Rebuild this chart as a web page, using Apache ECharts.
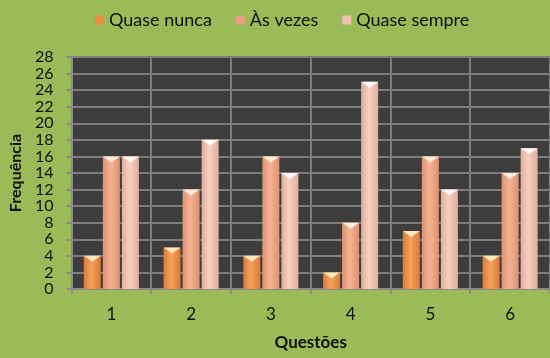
<!DOCTYPE html>
<html>
<head>
<meta charset="utf-8">
<script src="https://cdn.jsdelivr.net/npm/echarts@6/dist/echarts.min.js"></script>
<style>
  html, body { margin: 0; padding: 0; background: #9bbb59; }
  #chart { width: 550px; height: 358px; }
</style>
</head>
<body>
<div id="chart"></div>
<script>
// Survey answers per question
const categories = ['1', '2', '3', '4', '5', '6'];
const quaseNunca = [4, 5, 4, 2, 7, 4];
const asVezes = [16, 12, 16, 8, 16, 14];
const quaseSempre = [16, 18, 14, 25, 12, 17];
const yTicks = [0, 2, 4, 6, 8, 10, 12, 14, 16, 18, 20, 22, 24, 26, 28];

const FONT = 'Lato, "Open Sans", sans-serif';

function barFill(edge, mid) {
  return new echarts.graphic.LinearGradient(0, 0, 1, 0, [
    { offset: 0, color: edge },
    { offset: 0.45, color: mid },
    { offset: 1, color: edge }
  ]);
}

const styles = [
  { name: 'Quase nunca', data: quaseNunca, edge: '#dc7a36', mid: '#f6a25c', cap: '#fff0c8', legend: '#ec8c45' },
  { name: 'Às vezes', data: asVezes, edge: '#de9170', mid: '#f5b393', cap: '#fff4e6', legend: '#eaa07e' },
  { name: 'Quase sempre', data: quaseSempre, edge: '#e2ad9b', mid: '#f6d0c2', cap: '#ffffff', legend: '#efc0b0' }
];

const BAR_W = 17;
const GAP = '12%';

const series = [];
styles.forEach(s => {
  series.push({
    name: s.name,
    type: 'bar',
    data: s.data,
    barWidth: BAR_W,
    barGap: GAP,
    itemStyle: { color: barFill(s.edge, s.mid) },
    emphasis: { disabled: true }
  });
});
// triangular bevel caps on the bar tops
styles.forEach(s => {
  series.push({
    name: s.name,
    type: 'pictorialBar',
    data: s.data,
    barWidth: BAR_W,
    barGap: GAP,
    symbol: 'path://M0,0 L20,0 L10,6 Z',
    symbolSize: [BAR_W, 6],
    symbolPosition: 'end',
    itemStyle: { color: s.cap, opacity: 0.9 },
    z: 3,
    silent: true
  });
});

const chart = echarts.init(document.getElementById('chart'));
chart.setOption({
  backgroundColor: '#9bbb59',
  animation: false,
  textStyle: { fontFamily: FONT },
  legend: {
    top: 6,
    left: 90,
    itemWidth: 9,
    itemHeight: 9,
    itemGap: 24,
    icon: 'rect',
    data: styles.map(s => ({ name: s.name, itemStyle: { color: s.legend } })),
    textStyle: { fontFamily: FONT, fontSize: 18, color: '#111' }
  },
  grid: { left: 71, top: 57, bottom: 69, width: 482, containLabel: false,
          show: true, backgroundColor: '#3d3d3d', borderWidth: 0 },
  xAxis: {
    type: 'category',
    data: categories,
    name: 'Questões',
    nameLocation: 'middle',
    nameGap: 45,
    nameTextStyle: { fontFamily: FONT, fontSize: 17, fontWeight: 'bold', color: '#111' },
    axisLine: { lineStyle: { color: '#8a8a8a', width: 2 } },
    axisTick: { show: true, length: 5, lineStyle: { color: '#8a8a8a', width: 2 } },
    axisLabel: { fontFamily: FONT, fontSize: 17, color: '#111', margin: 17 },
    splitLine: { show: true, lineStyle: { color: '#7d7d7d', width: 2 } }
  },
  yAxis: {
    type: 'value',
    min: 0,
    max: 28,
    interval: 2,
    name: 'Frequência',
    nameLocation: 'middle',
    nameGap: 47,
    nameTextStyle: { fontFamily: FONT, fontSize: 16, fontWeight: 'bold', color: '#111' },
    axisLine: { show: true, lineStyle: { color: '#8a8a8a', width: 2 } },
    axisTick: { show: true, length: 5, lineStyle: { color: '#8a8a8a', width: 2 } },
    axisLabel: {
      fontFamily: FONT, fontSize: 16, color: '#111', margin: 18,
      showMinLabel: true, showMaxLabel: true, hideOverlap: false,
      formatter: v => (yTicks.indexOf(v) >= 0 ? String(v) : '')
    },
    splitLine: { show: true, lineStyle: { color: '#7d7d7d', width: 2 } }
  },
  series: series
});
</script>
</body>
</html>
